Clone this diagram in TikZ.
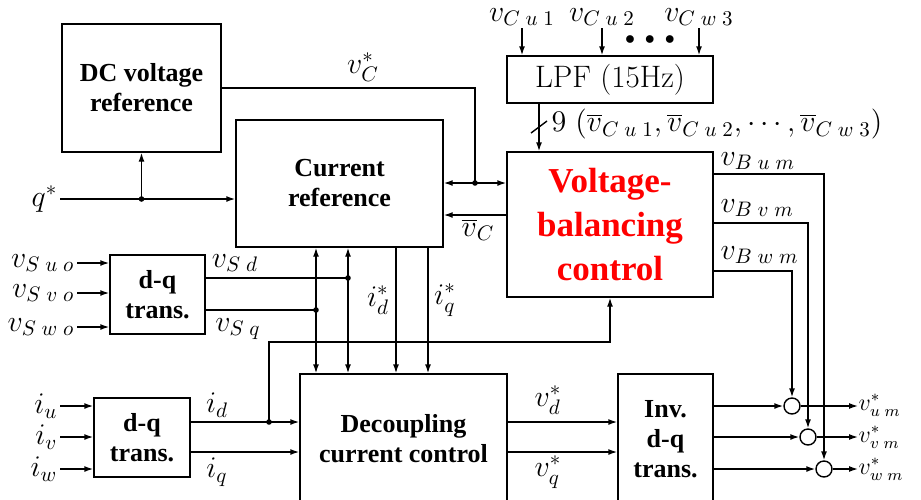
\RequirePackage{fix-cm}
\documentclass[tikz,border=0pt]{standalone}
\usepackage{fontspec}
\newfontfamily\tnr{Liberation Serif}
\usetikzlibrary{arrows.meta}

\tikzset{
  blk/.style={draw, line width=0.7pt, inner sep=0pt, align=center,
    font=\tnr\bfseries\fontsize{13}{15}\selectfont},
  lbl/.style={inner sep=1pt, font=\fontsize{15}{18}\selectfont},
  outlbl/.style={inner sep=0pt, anchor=west, font=\fontsize{12}{14}\selectfont},
  sumpt/.style={draw, circle, line width=0.7pt, minimum size=8pt, inner sep=0pt},
  >={Latex[length=4.5pt,width=3pt]}
}
\newcommand{\junc}[1]{\fill (#1) circle (1.4pt);}

\begin{document}
\begin{tikzpicture}[x=0.5pt, y=-0.5pt, line width=0.7pt]
\useasboundingbox (0,0) rectangle (921,499);

% blocks
\node[blk, minimum width=79.5pt, minimum height=64pt] (dcref) at (141.5,88) {DC voltage\\reference};
\node[blk, minimum width=103.5pt, minimum height=63.5pt] (curref) at (339.5,183.5) {Current\\reference};
\node[blk, font=\fontsize{15.5}{18}\selectfont, minimum width=103pt, minimum height=23.5pt] (lpf) at (610,79.5) {LPF (15Hz)};
\node[blk, text=red, font=\tnr\bfseries\fontsize{17.5}{22}\selectfont, minimum width=103pt, minimum height=72.5pt] (vbc) at (610,224.5) {Voltage-\\balancing\\control};
\node[blk, minimum width=47.5pt, minimum height=39.5pt] (dqv) at (157.5,294.5) {d-q\\trans.};
\node[blk, minimum width=48pt, minimum height=39.5pt] (dqi) at (142,437.5) {d-q\\trans.};
\node[blk, minimum width=103.5pt, minimum height=65pt] (dcc) at (403.5,439) {Decoupling\\current control};
\node[blk, minimum width=47.5pt, minimum height=65pt] (inv) at (665.5,439) {Inv.\\d-q\\trans.};

% summing points
\node[sumpt] (su) at (792,406) {};
\node[sumpt] (sv) at (808,437) {};
\node[sumpt] (sw) at (824,469) {};

% q* and DC voltage reference
\node[lbl, anchor=east] (qin) at (60,199) {$q^*$};
\coordinate (qdot) at (dcref.south |- qin);
\draw[->] (qin) -- (qin -| curref.west);
\draw[->] (qdot) -- (dcref.south);
\junc{qdot}

% v_C^* and mean v_C
\coordinate (vcdot) at (475,183);
\draw (dcref.east) -| (vcdot);
\draw[->] (vcdot) -- (vcdot -| vbc.west);
\draw[->] (vcdot) -- (vcdot -| curref.east);
\junc{vcdot}
\node[lbl] (vcstar) at (363,67) {$v_C^*$};
\coordinate (vcb) at (0,215);
\draw[->] (vcb -| vbc.west) -- (vcb -| curref.east);
\node[lbl] (vcbar) at (478,230) {$\overline{v}_C$};

% LPF
\node[lbl] (vcu1) at (522,17) {$v_{C\;u\;1}$};
\node[lbl] (vcu2) at (602,17) {$v_{C\;u\;2}$};
\node[lbl] (vcw3) at (699,17) {$v_{C\;w\;3}$};
\node[inner sep=0pt, font=\fontsize{10}{12}\selectfont] (dots) at (650,40) {$\bullet\;\bullet\;\bullet$};
\foreach \n in {vcu1,vcu2,vcw3}
  \draw[->] (\n) -- (\n |- lpf.north);
\coordinate (bus) at (539,127);
\draw[->] (bus |- lpf.south) -- (bus |- vbc.north);
\draw ([shift={(-8,6)}]bus) -- ([shift={(8,-6)}]bus);
\node[lbl, anchor=west, inner sep=0pt] (nine) at (551,124) {$9\ (\overline{v}_{C\;u\;1},\overline{v}_{C\;u\;2},\cdots,\overline{v}_{C\;w\;3})$};

% balancing outputs
\coordinate (bu) at (0,174);
\coordinate (bv) at (0,223);
\coordinate (bw) at (0,271);
\draw[->] (bu -| vbc.east) -| (sw.north);
\draw[->] (bv -| vbc.east) -| (sv.north);
\draw[->] (bw -| vbc.east) -| (su.north);
\node[lbl, anchor=west] (vbum) at (718,161) {$v_{B\;u\;m}$};
\node[lbl, anchor=west] (vbvm) at (718,208) {$v_{B\;v\;m}$};
\node[lbl, anchor=west] (vbwm) at (718,255) {$v_{B\;w\;m}$};

% supply voltage d-q
\foreach \nm/\yy/\tx in {vsuo/263/S\;u\;o, vsvo/293/S\;v\;o, vswo/327/S\;w\;o} {
  \node[lbl, anchor=east] (\nm) at (77,\yy) {$v_{\tx}$};
  \draw[->] (\nm) -- (\nm -| dqv.west);
}
\coordinate (sddot) at (348,278);
\coordinate (sqdot) at (316,310);
\draw (sddot -| dqv.east) -- (sddot);
\draw (sqdot -| dqv.east) -- (sqdot);
\junc{sddot}
\junc{sqdot}
\draw[<->] (sddot |- curref.south) -- (sddot |- dcc.north);
\draw[<->] (sqdot |- curref.south) -- (sqdot |- dcc.north);
\node[lbl] (vsd) at (235,263) {$v_{S\;d}$};
\node[lbl] (vsq) at (238,329) {$v_{S\;q}$};

% current references
\coordinate (ids) at (396,300);
\coordinate (iqs) at (428,300);
\draw[->] (ids |- curref.south) -- (ids |- dcc.north);
\draw[->] (iqs |- curref.south) -- (iqs |- dcc.north);
\node[lbl] (idstar) at (378,300) {$i_d^*$};
\node[lbl] (iqstar) at (445,300) {$i_q^*$};

% current d-q
\foreach \nm/\yy/\tx in {iu/406/u, iv/437/v, iw/469/w} {
  \node[lbl, anchor=east] (\nm) at (60,\yy) {$i_{\tx}$};
  \draw[->] (\nm) -- (\nm -| dqi.west);
}
\coordinate (idl) at (0,422);
\coordinate (iql) at (0,452);
\coordinate (iddot) at (269,422);
\coordinate (fb) at (0,342);
\draw[->] (idl -| dqi.east) -- (idl -| dcc.west);
\draw[->] (iql -| dqi.east) -- (iql -| dcc.west);
\junc{iddot}
\draw[->] (iddot) |- (fb -| vbc.south) -- (vbc.south);
\node[lbl] (idlbl) at (217,405) {$i_d$};
\node[lbl] (iqlbl) at (217,472) {$i_q$};

% voltage references
\draw[->] (idl -| dcc.east) -- (idl -| inv.west);
\draw[->] (iql -| dcc.east) -- (iql -| inv.west);
\node[lbl] (vdstar) at (548,400) {$v_d^*$};
\node[lbl] (vqstar) at (548,472) {$v_q^*$};

% outputs
\draw[->] (su -| inv.east) -- (su);
\draw[->] (sv -| inv.east) -- (sv);
\draw[->] (sw -| inv.east) -- (sw);
\node[outlbl] (vum) at (858,405) {$v^*_{u\;m}$};
\node[outlbl] (vvm) at (858,437) {$v^*_{v\;m}$};
\node[outlbl] (vwm) at (858,469) {$v^*_{w\;m}$};
\draw[->] (su) -- (su -| vum.west);
\draw[->] (sv) -- (sv -| vvm.west);
\draw[->] (sw) -- (sw -| vwm.west);
\end{tikzpicture}
\end{document}
